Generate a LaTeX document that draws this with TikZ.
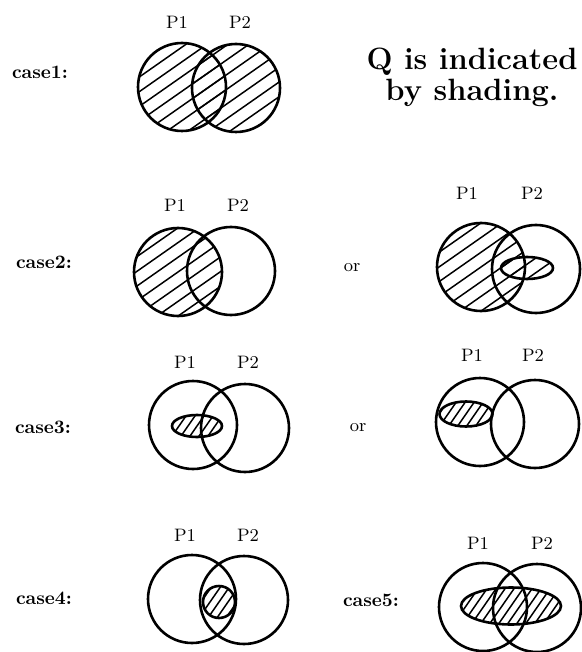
\documentclass[tikz,border=0pt]{standalone}
\begin{document}
\begin{tikzpicture}[x=0.5pt,y=-0.5pt,
  ring/.style={line width=1.3pt},
  lbl/.style={font=\fontsize{9}{11}\selectfont,inner sep=0pt},
  case/.style={font=\fontsize{9.5}{11}\selectfont\bfseries,inner sep=0pt},
  note/.style={font=\fontsize{15.4}{15.5}\selectfont\bfseries,align=center,inner sep=0pt},
  qshade/.style={path picture={
    \foreach \k in {-14,...,14}
      \draw[line width=0.75pt] ([xshift=\k*10.5pt]#1)
        +(-60pt,-42pt) -- +(60pt,42pt);}},
  qdense/.style={path picture={
    \foreach \k in {-16,...,16}
      \draw[line width=0.75pt] ([xshift=\k*4.5pt]path picture bounding box.center)
        +(-25pt,-36pt) -- +(25pt,36pt);}}]
\useasboundingbox (0,0) rectangle (582,652);

% case 1
\node[case] (c1) at (40,72) {case1:};
\node[lbl] (p1a) at (177,22) {P1};
\node[lbl] (p2a) at (240,22) {P2};
\coordinate (h1) at (209,87);
\draw[ring,qshade=h1] (182,87) circle[radius=22pt];
\draw[ring,qshade=h1] (236,88) circle[radius=22pt];
\node[note] (q) at (472,77) {Q is indicated\\by shading.};

% case 2
\node[case] (c2) at (44,262) {case2:};
\node[lbl] (p1b) at (175,205) {P1};
\node[lbl] (p2b) at (238,205) {P2};
\coordinate (h2) at (178,272);
\draw[ring,qshade=h2] (178,272) circle[radius=22pt];
\draw[ring] (231,271) circle[radius=22pt];
\node[lbl] (or2) at (352,268) {or};
\node[lbl] (p1c) at (467,193) {P1};
\node[lbl] (p2c) at (532,193) {P2};
\coordinate (h3) at (481,267);
\draw[ring,qshade=h3] (481,267) circle[radius=22pt];
\draw[ring] (536,269) circle[radius=22pt];
\draw[ring,qshade=h3] (527,268) ellipse[x radius=13pt,y radius=5.5pt];

% case 3
\node[case] (c3) at (43,427) {case3:};
\node[lbl] (p1d) at (185,362) {P1};
\node[lbl] (p2d) at (248,362) {P2};
\draw[ring] (193,425) circle[radius=22pt];
\draw[ring] (245,428) circle[radius=22pt];
\draw[ring,qdense] (197,426) ellipse[x radius=12.5pt,y radius=5.5pt];
\node[lbl] (or3) at (358,428) {or};
\node[lbl] (p1e) at (472,355) {P1};
\node[lbl] (p2e) at (533,355) {P2};
\draw[ring] (480,422) circle[radius=22pt];
\draw[ring] (535,424) circle[radius=22pt];
\draw[ring,qdense] (466,414) ellipse[x radius=13.25pt,y radius=6.25pt];

% case 4 and case 5
\node[case] (c4) at (44,598) {case4:};
\node[lbl] (p1f) at (185,535) {P1};
\node[lbl] (p2f) at (248,535) {P2};
\draw[ring] (192,599) circle[radius=22pt];
\draw[ring] (244,600) circle[radius=22pt];
\draw[ring,qdense] (219,602) circle[radius=8pt];
\node[case] (c5) at (371,600) {case5:};
\node[lbl] (p1g) at (478,543) {P1};
\node[lbl] (p2g) at (542,543) {P2};
\draw[ring] (483,607) circle[radius=22pt];
\draw[ring] (537,608) circle[radius=22pt];
\draw[ring,qdense] (511,606) ellipse[x radius=25pt,y radius=9.25pt];
\end{tikzpicture}
\end{document}
